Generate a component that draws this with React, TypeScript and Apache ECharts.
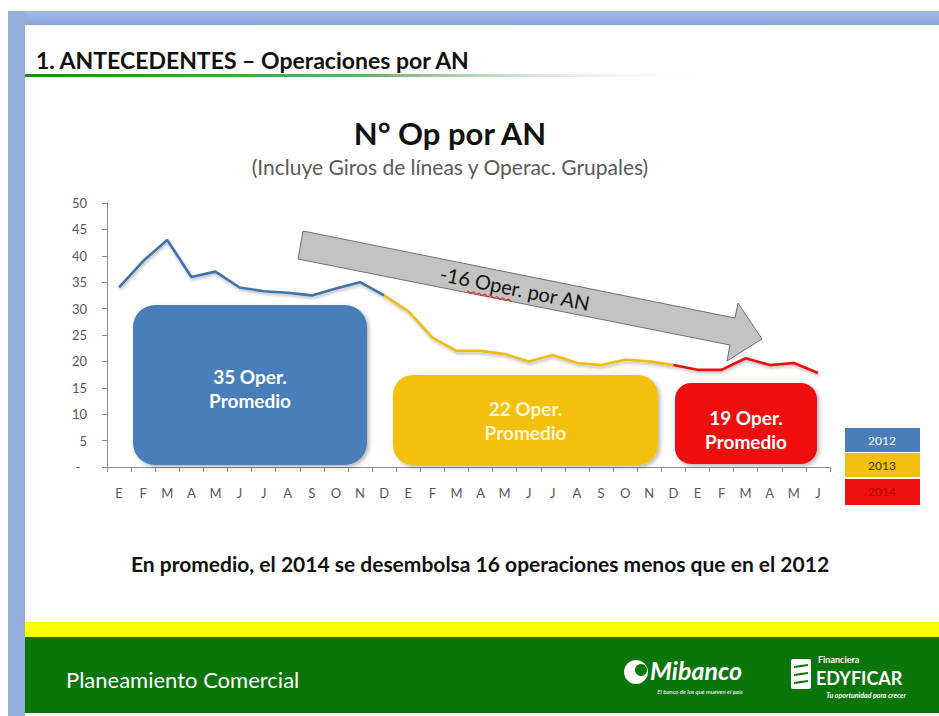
import React, { useEffect, useRef } from 'react';
import * as echarts from 'echarts';

// Month initials (Spanish): 2012 (12), 2013 (12), 2014 (6)
const months = [
  'E', 'F', 'M', 'A', 'M', 'J', 'J', 'A', 'S', 'O', 'N', 'D',
  'E', 'F', 'M', 'A', 'M', 'J', 'J', 'A', 'S', 'O', 'N', 'D',
  'E', 'F', 'M', 'A', 'M', 'J',
];
const ops2012 = [34, 39, 43, 36, 37, 34, 33.3, 33, 32.5, 33.8, 35, 32.5];
const ops2013 = [29.5, 24.5, 22, 22, 21.4, 20, 21.2, 19.7, 19.3, 20.3, 20, 19.3];
const ops2014 = [18.4, 18.4, 20.6, 19.3, 19.7, 17.8];
const years = ['2012', '2013', '2014'];
const yearColors = ['#4A7EBB', '#F2C00E', '#F01010'];
const avgTexts = ['35 Oper.', '22 Oper.', '19 Oper.'];

const FONT = 'Lato, "Open Sans", "DejaVu Sans", sans-serif';

export default function App() {
  const ref = useRef<HTMLDivElement>(null);
  useEffect(() => {
    document.body.style.margin = '0';
    const chart = echarts.init(ref.current!, null, { renderer: 'svg' });

    const n = months.length;
    const blue: (number | null)[] = new Array(n).fill(null);
    const yellow: (number | null)[] = new Array(n).fill(null);
    const red: (number | null)[] = new Array(n).fill(null);
    ops2012.forEach((v, i) => (blue[i] = v));
    yellow[11] = ops2012[11];
    ops2013.forEach((v, i) => (yellow[12 + i] = v));
    red[23] = ops2013[11];
    ops2014.forEach((v, i) => (red[24 + i] = v));

    const lineSeries = (data: (number | null)[], color: string) => ({
      type: 'line',
      data,
      symbol: 'none',
      connectNulls: false,
      z: 5,
      lineStyle: {
        color,
        width: 2.6,
        shadowColor: 'rgba(0,0,0,0.28)',
        shadowBlur: 3,
        shadowOffsetX: 1,
        shadowOffsetY: 2,
      },
    });

    // rounded "promedio" boxes
    const boxes = [
      { x: 133, y: 305, w: 234, h: 160, r: 22, tc: '#FFFFFF', ty: 388 },
      { x: 393, y: 375, w: 265, h: 90, r: 20, tc: '#FFF6D6', ty: 420 },
      { x: 675, y: 383, w: 142, h: 81, r: 16, tc: '#FFFFFF', ty: 429 },
    ];
    const boxGraphics: any[] = [];
    boxes.forEach((b, i) => {
      boxGraphics.push({
        type: 'rect',
        shape: { x: b.x, y: b.y, width: b.w, height: b.h, r: b.r },
        style: {
          fill: yearColors[i],
          shadowColor: 'rgba(0,0,0,0.3)',
          shadowBlur: 4,
          shadowOffsetX: 2,
          shadowOffsetY: 2,
        },
        z: 1,
      });
      boxGraphics.push({
        type: 'text',
        x: b.x + b.w / 2,
        y: b.ty,
        style: {
          text: avgTexts[i] + '\nPromedio',
          fill: b.tc,
          font: 'bold 19px ' + FONT,
          lineHeight: 24,
          align: 'center',
          verticalAlign: 'middle',
        },
        z: 2,
      });
    });

    // legend boxes
    const legendGraphics: any[] = [];
    const legTop = [428, 453, 479];
    const legTextColors = ['#FFFFFF', '#3A3300', '#B00000'];
    years.forEach((y, i) => {
      legendGraphics.push({
        type: 'rect',
        shape: { x: 845, y: legTop[i], width: 75, height: i === 2 ? 26 : 24 },
        style: { fill: yearColors[i] },
        z: 1,
      });
      legendGraphics.push({
        type: 'text',
        x: 882,
        y: legTop[i] + 12.5,
        style: {
          text: y,
          fill: legTextColors[i],
          font: '12px ' + FONT,
          align: 'center',
          verticalAlign: 'middle',
        },
        z: 2,
      });
    });

    // red spell-check squiggle under "Oper."
    const squiggle: number[][] = [];
    for (let k = 0; k <= 15; k++) squiggle.push([-46 + k * 3, 12 + (k % 2 === 0 ? 0 : 2)]);

    const option: any = {
      animation: false,
      backgroundColor: '#FFFFFF',
      grid: { left: 107, right: 109, top: 203, height: 264 },
      xAxis: {
        type: 'category',
        data: months,
        boundaryGap: true,
        axisLine: { show: true, lineStyle: { color: '#8C8C8C', width: 1 } },
        axisTick: { show: true, alignWithLabel: false, length: 5, lineStyle: { color: '#8C8C8C' } },
        axisLabel: { interval: 0, margin: 19, color: '#595959', fontSize: 13, fontFamily: FONT },
        splitLine: { show: false },
      },
      yAxis: {
        type: 'value',
        min: 0,
        max: 50,
        interval: 5,
        axisLine: { show: true, lineStyle: { color: '#8C8C8C', width: 1 } },
        axisTick: { show: true, length: 5, lineStyle: { color: '#8C8C8C' } },
        axisLabel: {
          margin: 20,
          color: '#595959',
          fontSize: 13,
          fontFamily: FONT,
          formatter: (v: number) => (v === 0 ? '-  ' : String(v)),
        },
        splitLine: { show: false },
      },
      series: [
        lineSeries(blue, '#3F6FAE'),
        lineSeries(yellow, '#EDBA18'),
        lineSeries(red, '#EE1111'),
      ],
      graphic: [
        // slide frame (blue)
        {
          type: 'rect',
          shape: { x: 8, y: 11, width: 931, height: 14 },
          style: {
            fill: { type: 'linear', x: 0, y: 0, x2: 0, y2: 1, colorStops: [
              { offset: 0, color: '#9DBCE8' }, { offset: 1, color: '#8AA5D6' },
            ] },
          },
          z: 0,
        },
        {
          type: 'rect',
          shape: { x: 8, y: 11, width: 17, height: 705 },
          style: { fill: '#93AEDD' },
          z: 0,
        },
        // header
        {
          type: 'text',
          x: 36,
          y: 60,
          style: {
            text: '1. ANTECEDENTES – Operaciones por AN',
            fill: '#111111',
            font: 'bold 23px ' + FONT,
            verticalAlign: 'middle',
          },
          z: 2,
        },
        {
          type: 'rect',
          shape: { x: 25, y: 74, width: 700, height: 3 },
          style: {
            fill: { type: 'linear', x: 0, y: 0, x2: 1, y2: 0, colorStops: [
              { offset: 0, color: '#1A8A1A' },
              { offset: 0.5, color: '#6FAF6F' },
              { offset: 1, color: 'rgba(255,255,255,0)' },
            ] },
          },
          z: 1,
        },
        // title
        {
          type: 'text',
          x: 450,
          y: 133,
          style: {
            text: 'N° Op por AN',
            fill: '#111111',
            font: 'bold 31px ' + FONT,
            align: 'center',
            verticalAlign: 'middle',
          },
          z: 2,
        },
        {
          type: 'text',
          x: 450,
          y: 166,
          style: {
            text: '(Incluye Giros de líneas y Operac. Grupales)',
            fill: '#595959',
            font: '21px ' + FONT,
            align: 'center',
            verticalAlign: 'middle',
          },
          z: 2,
        },
        ...boxGraphics,
        // big grey arrow
        {
          type: 'polygon',
          shape: {
            points: [[303, 231], [735, 318], [738, 303], [762, 339], [727, 361], [730, 345], [298, 259]],
          },
          style: { fill: '#C3C3C3', stroke: '#6E6E6E', lineWidth: 1 },
          z: 3,
        },
        {
          type: 'group',
          x: 515,
          y: 288,
          rotation: -0.2,
          z: 4,
          children: [
            {
              type: 'text',
              x: 0,
              y: 0,
              style: {
                text: '-16 Oper. por AN',
                fill: '#111111',
                font: '20px ' + FONT,
                align: 'center',
                verticalAlign: 'middle',
              },
              z: 4,
            },
            {
              type: 'polyline',
              shape: { points: squiggle },
              style: { stroke: '#E02020', lineWidth: 1, fill: null },
              z: 4,
            },
          ],
        },
        ...legendGraphics,
        // bottom sentence
        {
          type: 'text',
          x: 480,
          y: 563,
          style: {
            text: 'En promedio, el 2014 se desembolsa 16 operaciones menos que en el 2012',
            fill: '#111111',
            font: 'bold 21px ' + FONT,
            align: 'center',
            verticalAlign: 'middle',
          },
          z: 2,
        },
        // footer
        {
          type: 'rect',
          shape: { x: 25, y: 622, width: 914, height: 15 },
          style: { fill: '#FFFF00' },
          z: 1,
        },
        {
          type: 'rect',
          shape: { x: 25, y: 637, width: 914, height: 76 },
          style: { fill: '#0A760A' },
          z: 1,
        },
        {
          type: 'text',
          x: 66,
          y: 679,
          style: {
            text: 'Planeamiento Comercial',
            fill: '#FFFFFF',
            font: '22px ' + FONT,
            verticalAlign: 'middle',
          },
          z: 2,
        },
        // Mibanco logo
        {
          type: 'circle',
          shape: { cx: 636, cy: 672, r: 12 },
          style: { fill: '#FFFFFF' },
          z: 2,
        },
        {
          type: 'circle',
          shape: { cx: 641, cy: 670, r: 6 },
          style: { fill: '#0A760A' },
          z: 2,
        },
        {
          type: 'text',
          x: 650,
          y: 670,
          style: {
            text: 'Mibanco',
            fill: '#FFFFFF',
            font: 'italic bold 25px ' + FONT,
            verticalAlign: 'middle',
          },
          z: 2,
        },
        {
          type: 'text',
          x: 700,
          y: 691,
          style: {
            text: 'El banco de los que mueven el país',
            fill: '#FFFFFF',
            font: 'italic 6px ' + FONT,
            align: 'center',
            verticalAlign: 'middle',
          },
          z: 2,
        },
        // EDYFICAR logo
        {
          type: 'rect',
          shape: { x: 791, y: 659, width: 20, height: 30, r: 2 },
          style: { fill: '#FFFFFF' },
          z: 2,
        },
        {
          type: 'line',
          shape: { x1: 794, y1: 667, x2: 808, y2: 665 },
          style: { stroke: '#0A760A', lineWidth: 2 },
          z: 3,
        },
        {
          type: 'line',
          shape: { x1: 794, y1: 675, x2: 808, y2: 673 },
          style: { stroke: '#0A760A', lineWidth: 2 },
          z: 3,
        },
        {
          type: 'line',
          shape: { x1: 794, y1: 683, x2: 808, y2: 681 },
          style: { stroke: '#0A760A', lineWidth: 2 },
          z: 3,
        },
        {
          type: 'text',
          x: 818,
          y: 659,
          style: {
            text: 'Financiera',
            fill: '#FFFFFF',
            font: 'bold 9px ' + FONT,
            verticalAlign: 'middle',
          },
          z: 2,
        },
        {
          type: 'text',
          x: 816,
          y: 678,
          style: {
            text: 'EDYFICAR',
            fill: '#FFFFFF',
            font: 'bold 18px ' + FONT,
            verticalAlign: 'middle',
          },
          z: 2,
        },
        {
          type: 'text',
          x: 866,
          y: 695,
          style: {
            text: 'Tu oportunidad para crecer',
            fill: '#FFFFFF',
            font: 'italic bold 7px ' + FONT,
            align: 'center',
            verticalAlign: 'middle',
          },
          z: 2,
        },
      ],
    };

    chart.setOption(option);
    return () => chart.dispose();
  }, []);
  return <div ref={ref} style={{ width: 939, height: 716 }} />;
}
